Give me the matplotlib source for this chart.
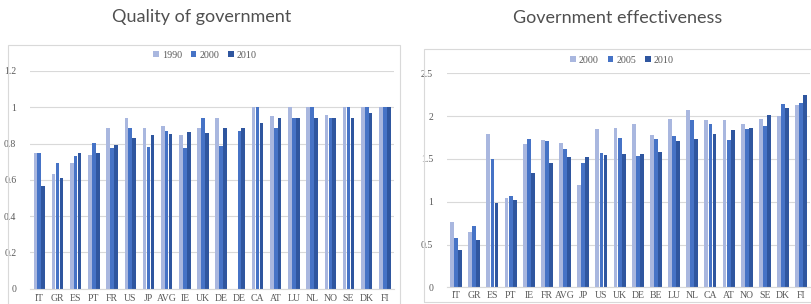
import matplotlib
matplotlib.use('Agg')
from matplotlib import pyplot as plt
from matplotlib.patches import Rectangle
import numpy as np

# left panel: quality of government
qog_countries = ['IT', 'GR', 'ES', 'PT', 'FR', 'US', 'JP', 'AVG', 'IE', 'UK',
                 'DE', 'DE', 'CA', 'AT', 'LU', 'NL', 'NO', 'SE', 'DK', 'FI']
qog_1990 = [0.75, 0.632, 0.693, 0.735, 0.888, 0.943, 0.888, 0.895, 0.847, 0.888,
            0.943, 0.0, 1.0, 0.95, 1.0, 1.0, 0.956, 1.0, 1.0, 1.0]
qog_2000 = [0.75, 0.693, 0.733, 0.803, 0.776, 0.888, 0.783, 0.871, 0.776, 0.943,
            0.789, 0.868, 1.0, 0.888, 0.943, 1.0, 0.943, 1.0, 1.0, 1.0]
qog_2010 = [0.568, 0.608, 0.748, 0.748, 0.792, 0.833, 0.847, 0.855, 0.862, 0.86,
            0.888, 0.888, 0.915, 0.943, 0.943, 0.943, 0.943, 0.943, 0.97, 1.0]
qog_years = ['1990', '2000', '2010']

# right panel: government effectiveness
ge_countries = ['IT', 'GR', 'ES', 'PT', 'IE', 'FR', 'AVG', 'JP', 'US', 'UK',
                'DE', 'BE', 'LU', 'NL', 'CA', 'AT', 'NO', 'SE', 'DK', 'FI']
ge_2000 = [0.76, 0.646, 1.786, 1.039, 1.669, 1.72, 1.689, 1.191, 1.844, 1.856,
           1.903, 1.774, 1.961, 2.07, 1.949, 1.949, 1.907, 1.969, 1.996, 2.128]
ge_2005 = [0.576, 0.716, 1.494, 1.062, 1.732, 1.704, 1.611, 1.455, 1.568, 1.743,
           1.537, 1.732, 1.77, 1.949, 1.907, 1.72, 1.852, 1.887, 2.136, 2.156]
ge_2010 = [0.44, 0.553, 0.988, 1.019, 1.335, 1.447, 1.521, 1.521, 1.545, 1.553,
           1.56, 1.576, 1.708, 1.728, 1.786, 1.837, 1.86, 2.008, 2.093, 2.245]
ge_years = ['2000', '2005', '2010']

colors = ['#a9b7df', '#4673c6', '#2f569f']
grey = '#595959'
grid = '#d9d9d9'

fig = plt.figure(figsize=(8.12, 3.04), dpi=100)

# panel frames
fig.patches.append(Rectangle((8 / 812, -0.05), 392 / 812, 1 - 45 / 304 + 0.05,
                             transform=fig.transFigure, fill=False,
                             edgecolor=grid, linewidth=0.8))
fig.patches.append(Rectangle((424 / 812, (304 - 301.7) / 304), 400 / 812,
                             (301.7 - 49) / 304, transform=fig.transFigure,
                             fill=False, edgecolor=grid, linewidth=0.8))


def draw(ax, cats, series, labels, width, step, ymax, ystep, fmt):
    x = np.arange(len(cats))
    for i, (vals, lab) in enumerate(zip(series, labels)):
        ax.bar(x + (i - 1) * step, vals, width, color=colors[i], label=lab, zorder=2)
    ax.set_xlim(-0.5, len(cats) - 0.5)
    ax.set_ylim(0, ymax)
    ticks = np.arange(0, ymax + 1e-9, ystep)
    ax.set_yticks(ticks)
    ax.set_yticklabels([fmt(t) for t in ticks])
    ax.set_xticks(x)
    ax.set_xticklabels(cats)
    for s in ['top', 'right', 'left']:
        ax.spines[s].set_visible(False)
    ax.spines['bottom'].set_color(grid)
    ax.spines['bottom'].set_linewidth(0.8)
    ax.grid(axis='y', color=grid, linewidth=0.8, zorder=0)
    ax.tick_params(length=0, labelsize=7, labelcolor=grey, pad=4)
    for t in ax.get_xticklabels() + ax.get_yticklabels():
        t.set_family('Liberation Serif')
    ax.set_facecolor('none')


def fmt_left(t):
    if abs(t - round(t)) < 1e-9:
        return str(int(round(t)))
    return f'{t:.1f}'


ax1 = fig.add_axes([30.2 / 812, 15.3 / 304, 363.8 / 812, 217.7 / 304])
draw(ax1, qog_countries, [qog_1990, qog_2000, qog_2010], qog_years,
     0.2, 0.215, 1.2, 0.2, fmt_left)
ax1.tick_params(axis='y', pad=10)

ax2 = fig.add_axes([447 / 812, 16.7 / 304, 363.4 / 812, 214 / 304])
draw(ax2, ge_countries, [ge_2000, ge_2005, ge_2010], ge_years,
     0.21, 0.225, 2.5, 0.5, fmt_left)
ax2.tick_params(axis='y', pad=10)
ax2.tick_params(axis='x', pad=3)

leg_kw = dict(ncol=3, frameon=False, handlelength=0.55, handleheight=0.55,
              handletextpad=0.3, columnspacing=0.9,
              prop={'family': 'Liberation Serif', 'size': 7.2})
l1 = fig.legend(*ax1.get_legend_handles_labels(), loc='center',
                bbox_to_anchor=(205 / 812, 1 - 55 / 304), **leg_kw)
l2 = fig.legend(*ax2.get_legend_handles_labels(), loc='center',
                bbox_to_anchor=(622 / 812, 1 - 60 / 304), **leg_kw)
for l in (l1, l2):
    for t in l.get_texts():
        t.set_color(grey)

fig.text(202 / 812, 1 - 17 / 304, 'Quality of government', ha='center',
         va='center', fontsize=13, color='#505050', family='Lato')
fig.text(618 / 812, 1 - 18 / 304, 'Government effectiveness', ha='center',
         va='center', fontsize=13, color='#505050', family='Lato')

fig.savefig('out.png', dpi=100)
